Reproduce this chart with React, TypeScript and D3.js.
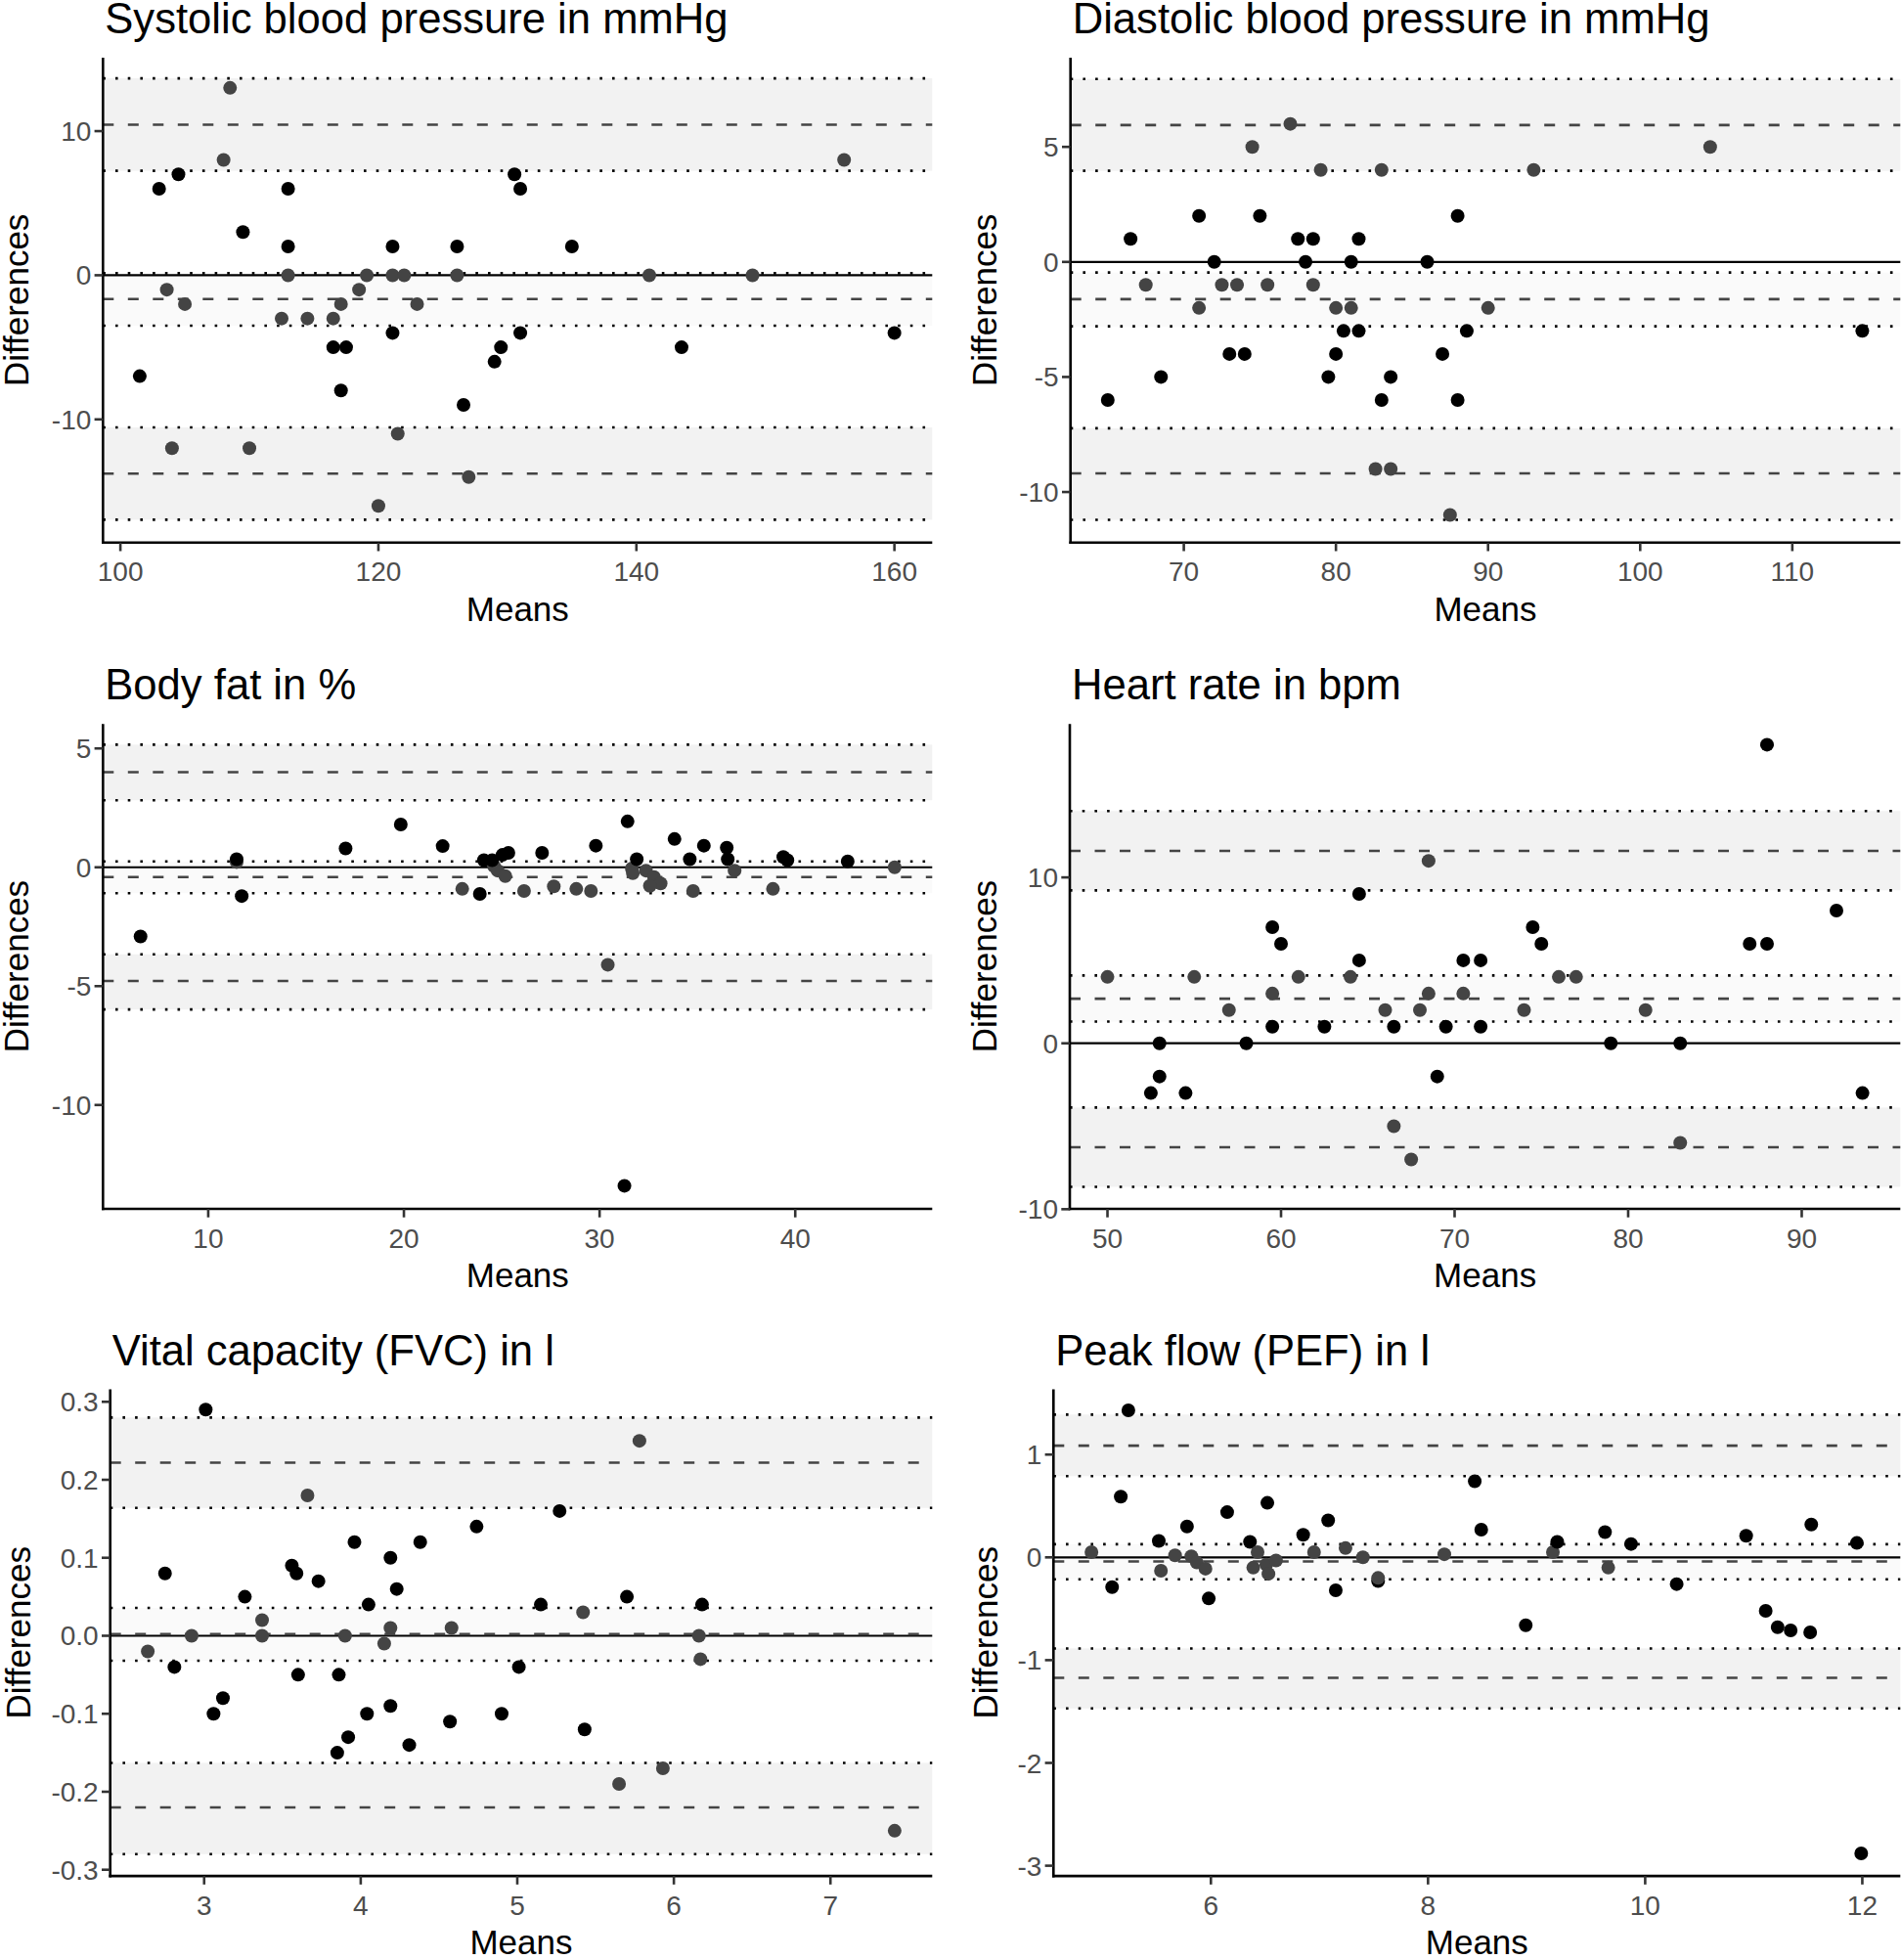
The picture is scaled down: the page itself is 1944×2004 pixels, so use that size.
import * as d3 from 'd3';

// [mean, difference, shade] where shade 1 = dark grey point, 0 = black point
const systolicPoints: [number, number, number][] = [
  [101.5, -7, 0], [103.0, 6, 0], [103.6, -1, 1], [104.0, -12, 1], [104.5, 7, 0],
  [105.0, -2, 1], [108.0, 8, 1], [108.5, 13, 1], [109.5, 3, 0], [110.0, -12, 1],
  [112.5, -3, 1], [113.0, 6, 0], [113.0, 2, 0], [113.0, 0, 1], [114.5, -3, 1],
  [116.5, -3, 1], [116.5, -5, 0], [117.1, -2, 1], [117.5, -5, 0], [117.1, -8, 0],
  [118.5, -1, 1], [119.1, 0, 1], [120.0, -16, 1], [121.1, 2, 0], [121.1, 0, 1],
  [121.1, -4, 0], [121.5, -11, 1], [122.0, 0, 1], [123.0, -2, 1], [126.1, 2, 0],
  [126.1, 0, 1], [126.6, -9, 0], [127.0, -14, 1], [129.0, -6, 0], [129.5, -5, 0],
  [130.55, 7, 0], [131.0, 6, 0], [131.0, -4, 0], [135.0, 2, 0], [141.0, 0, 1],
  [143.5, -5, 0], [149.0, 0, 1], [156.1, 8, 1], [160.0, -4, 0],
];

const diastolicPoints: [number, number, number][] = [
  [65.0, -6, 0], [66.5, 1, 0], [67.5, -1, 1], [68.5, -5, 0], [71.0, 2, 0],
  [71.0, -2, 1], [72.0, 0, 0], [72.5, -1, 1], [73.0, -4, 0], [73.5, -1, 1],
  [74.0, -4, 0], [74.5, 5, 1], [75.0, 2, 0], [75.5, -1, 1], [77.0, 6, 1],
  [77.5, 1, 0], [78.0, 0, 0], [78.5, 1, 0], [78.5, -1, 1], [79.0, 4, 1],
  [79.5, -5, 0], [80.0, -2, 1], [80.0, -4, 0], [80.5, -3, 0], [81.0, 0, 0],
  [81.0, -2, 1], [81.5, 1, 0], [81.5, -3, 0], [82.6, -9, 1], [83.0, 4, 1],
  [83.0, -6, 0], [83.6, -5, 0], [83.6, -9, 1], [86.0, 0, 0], [87.0, -4, 0],
  [88.0, 2, 0], [88.0, -6, 0], [87.5, -11, 1], [88.6, -3, 0], [90.0, -2, 1],
  [93.0, 4, 1], [104.6, 5, 1], [114.6, -3, 0],
];

const bodyFatPoints: [number, number, number][] = [
  [6.54, -2.91, 0], [11.45, 0.22, 1], [11.45, 0.34, 0], [11.71, -1.21, 0], [17.02, 0.79, 0],
  [19.84, 1.8, 0], [21.98, 0.89, 0], [22.98, -0.91, 1], [23.88, -1.12, 0], [24.09, 0.3, 0],
  [24.6, 0.05, 1], [24.79, -0.14, 1], [25.18, -0.37, 1], [24.51, 0.3, 0], [25.04, 0.52, 0],
  [25.34, 0.61, 0], [26.14, -1.0, 1], [27.06, 0.61, 0], [27.66, -0.8, 1], [28.81, -0.91, 1],
  [29.56, -1.0, 1], [29.81, 0.91, 0], [30.42, -4.1, 1], [31.43, 1.93, 0], [31.27, -13.4, 0],
  [31.65, -0.05, 1], [31.7, -0.25, 1], [31.9, 0.34, 0], [32.37, -0.14, 1], [32.78, -0.41, 1],
  [33.12, -0.68, 1], [32.57, -0.78, 1], [33.83, 1.19, 0], [34.61, 0.34, 0], [34.78, -1.0, 1],
  [35.33, 0.91, 0], [36.5, 0.82, 0], [36.55, 0.34, 0], [36.9, -0.14, 1], [38.86, -0.91, 1],
  [39.39, 0.43, 0], [39.6, 0.3, 0], [42.68, 0.25, 0], [45.08, 0.0, 1],
];

const heartRatePoints: [number, number, number][] = [
  [50, 4, 1], [52.5, -3, 0], [53, -2, 0], [53, 0, 0], [54.5, -3, 0],
  [55, 4, 1], [57, 2, 1], [58, 0, 0], [59.5, 7, 0], [59.5, 3, 1],
  [59.5, 1, 0], [60, 6, 0], [61, 4, 1], [62.5, 1, 0], [64, 4, 1],
  [64.5, 9, 0], [64.5, 5, 0], [66, 2, 1], [66.5, 1, 0], [66.5, -5, 1],
  [67.5, -7, 1], [68, 2, 1], [68.5, 11, 1], [68.5, 3, 1], [69, -2, 0],
  [69.5, 1, 0], [70.5, 5, 0], [70.5, 3, 1], [71.5, 5, 0], [71.5, 1, 0],
  [74, 2, 1], [74.5, 7, 0], [75, 6, 0], [76, 4, 1], [77, 4, 1],
  [79, 0, 0], [81, 2, 1], [83, 0, 0], [83, -6, 1], [87, 6, 0],
  [88, 18, 0], [88, 6, 0], [92, 8, 0], [93.5, -3, 0],
];

const fvcPoints: [number, number, number][] = [
  [2.64, -0.02, 1], [2.75, 0.08, 0], [2.81, -0.04, 0], [2.92, 0, 1], [3.01, 0.29, 0],
  [3.06, -0.1, 0], [3.12, -0.08, 0], [3.26, 0.05, 0], [3.37, 0.02, 1], [3.37, 0, 1],
  [3.56, 0.09, 0], [3.59, 0.08, 0], [3.6, -0.05, 0], [3.66, 0.18, 1], [3.73, 0.07, 0],
  [3.85, -0.15, 0], [3.86, -0.05, 0], [3.9, 0, 1], [3.92, -0.13, 0], [3.96, 0.12, 0],
  [4.04, -0.1, 0], [4.05, 0.04, 0], [4.15, -0.01, 1], [4.19, 0.1, 0], [4.19, -0.09, 0],
  [4.19, 0.01, 1], [4.23, 0.06, 0], [4.31, -0.14, 0], [4.38, 0.12, 0], [4.58, 0.01, 1],
  [4.57, -0.11, 0], [4.74, 0.14, 0], [4.9, -0.1, 0], [5.01, -0.04, 0], [5.15, 0.04, 0],
  [5.27, 0.16, 0], [5.42, 0.03, 1], [5.43, -0.12, 0], [5.65, -0.19, 1], [5.7, 0.05, 0],
  [5.78, 0.25, 1], [5.93, -0.17, 1], [6.16, 0, 1], [6.17, -0.03, 1], [6.18, 0.04, 0],
  [7.41, -0.25, 1],
];

const pefPoints: [number, number, number][] = [
  [4.9, 0.05, 1], [5.09, -0.29, 0], [5.17, 0.59, 0], [5.24, 1.43, 0], [5.52, 0.16, 0],
  [5.54, -0.13, 1], [5.67, 0.02, 1], [5.78, 0.3, 0], [5.82, 0.01, 1], [5.87, -0.05, 1],
  [5.95, -0.11, 1], [5.98, -0.4, 0], [6.15, 0.44, 0], [6.36, 0.15, 0], [6.39, -0.1, 1],
  [6.43, 0.05, 1], [6.52, 0.53, 0], [6.51, -0.07, 1], [6.53, -0.16, 1], [6.6, -0.03, 1],
  [6.85, 0.22, 0], [6.95, 0.05, 1], [7.08, 0.36, 0], [7.15, -0.32, 0], [7.24, 0.09, 1],
  [7.4, 0.0, 1], [7.54, -0.23, 0], [7.54, -0.2, 1], [8.15, 0.03, 1], [8.43, 0.74, 0],
  [8.49, 0.27, 0], [8.9, -0.66, 0], [9.15, 0.05, 1], [9.19, 0.15, 0], [9.63, 0.245, 0],
  [9.66, -0.1, 1], [9.87, 0.13, 0], [10.29, -0.26, 0], [10.93, 0.21, 0], [11.11, -0.52, 0],
  [11.22, -0.68, 0], [11.34, -0.71, 0], [11.52, -0.73, 0], [11.53, 0.32, 0], [11.95, 0.14, 0],
  [11.99, -2.88, 0],
];

// limits of agreement: upper (CI hi, estimate, CI lo), mean (hi, est, lo), lower (hi, est, lo)
const systolicLimits = [13.66, 10.45, 7.25, 0.14, -1.65, -3.5, -10.56, -13.76, -16.96];
const diastolicLimits = [7.95, 5.95, 3.96, -0.46, -1.62, -2.8, -7.23, -9.19, -11.21];
const bodyFatLimits = [5.16, 4.0, 2.82, 0.25, -0.41, -1.09, -3.66, -4.78, -5.98];
const heartRateLimits = [14.0, 11.6, 9.22, 4.09, 2.69, 1.31, -3.87, -6.27, -8.65];
const fvcLimits = [0.2798, 0.222, 0.164, 0.0357, 0.002, -0.032, -0.163, -0.22, -0.28];
const pefLimits = [1.389, 1.087, 0.79, 0.128, -0.04, -0.214, -0.886, -1.172, -1.47];

const titles = [
  'Systolic blood pressure in mmHg',
  'Diastolic blood pressure in mmHg',
  'Body fat in %',
  'Heart rate in bpm',
  'Vital capacity (FVC) in l',
  'Peak flow (PEF) in l',
];

const xTickSets = [
  [100, 120, 140, 160],
  [70, 80, 90, 100, 110],
  [10, 20, 30, 40],
  [50, 60, 70, 80, 90],
  [3, 4, 5, 6, 7],
  [6, 8, 10, 12],
];
const yTickSets = [
  [-10, 0, 10],
  [-10, -5, 0, 5],
  [-10, -5, 0, 5],
  [-10, 0, 10],
  [-0.3, -0.2, -0.1, 0, 0.1, 0.2, 0.3],
  [-3, -2, -1, 0, 1],
];
const yTickDecimals = [0, 0, 0, 0, 1, 0];
const xDomains: [number, number][] = [
  [98.65, 162.93], [62.55, 117.1], [4.62, 47.0], [47.83, 95.68], [2.4, 7.65], [4.55, 12.35],
];
const yDomains: [number, number][] = [
  [-18.55, 15.1], [-12.2, 8.88], [-14.37, 6.03], [-9.98, 19.25], [-0.308, 0.316], [-3.1, 1.635],
];

const panelData = [systolicPoints, diastolicPoints, bodyFatPoints, heartRatePoints, fvcPoints, pefPoints];
const panelLimits = [systolicLimits, diastolicLimits, bodyFatLimits, heartRateLimits, fvcLimits, pefLimits];

// panel frames in page pixels
const frames = [
  { left: 105.3, right: 953.3, top: 58.9, bottom: 554.8, labelX: 29 },
  { left: 1094.7, right: 1943.3, top: 58.9, bottom: 554.8, labelX: 1018.8 },
  { left: 105.3, right: 953.3, top: 740.2, bottom: 1236, labelX: 29 },
  { left: 1094, right: 1943.3, top: 740.2, bottom: 1236, labelX: 1018.8 },
  { left: 112.7, right: 953.3, top: 1420.5, bottom: 1918.1, labelX: 30.5 },
  { left: 1077.3, right: 1943.3, top: 1420.5, bottom: 1918.1, labelX: 1019.5 },
];

const FONT = '"Liberation Sans", Arial, Helvetica, sans-serif';

function Panel({ idx }: { idx: number }) {
  const f = frames[idx];
  const x = d3.scaleLinear().domain(xDomains[idx]).range([f.left, f.right]);
  const y = d3.scaleLinear().domain(yDomains[idx]).range([f.bottom, f.top]);
  const lim = panelLimits[idx];
  const pts = panelData[idx];
  const x0 = f.left;
  const x1 = f.right;
  const band = (hi: number, lo: number, fill: string) => (
    <rect x={x0} width={x1 - x0} y={y(hi)} height={y(lo) - y(hi)} fill={fill} />
  );
  const hline = (v: number, kind: 'dot' | 'dash' | 'solid') => {
    const common = { x1: x0, x2: x1, y1: y(v), y2: y(v) };
    if (kind === 'dot')
      return <line {...common} stroke="#000" strokeWidth={2.6} strokeDasharray="2.6,10.1" />;
    if (kind === 'dash')
      return <line {...common} stroke="#444" strokeWidth={2.6} strokeDasharray="11,14.5" />;
    return <line {...common} stroke="#000" strokeWidth={2.2} />;
  };
  const midY = (f.top + f.bottom) / 2;
  return (
    <g>
      {band(lim[0], lim[2], '#f2f2f2')}
      {band(lim[3], lim[5], '#fafafa')}
      {band(lim[6], lim[8], '#f2f2f2')}
      {hline(0, 'solid')}
      {[0, 2, 3, 5, 6, 8].map((i) => (
        <g key={'d' + i}>{hline(lim[i], 'dot')}</g>
      ))}
      {[1, 4, 7].map((i) => (
        <g key={'m' + i}>{hline(lim[i], 'dash')}</g>
      ))}
      {pts.map((p, i) => (
        <circle key={i} cx={x(p[0])} cy={y(p[1])} r={7} fill={p[2] ? '#444' : '#000'} />
      ))}
      {/* axes */}
      <line x1={x0} x2={x0} y1={f.top} y2={f.bottom + 1.3} stroke="#000" strokeWidth={2.6} />
      <line x1={x0 - 1.3} x2={x1} y1={f.bottom} y2={f.bottom} stroke="#000" strokeWidth={2.6} />
      {xTickSets[idx].map((t) => (
        <g key={'xt' + t}>
          <line x1={x(t)} x2={x(t)} y1={f.bottom} y2={f.bottom + 8.7} stroke="#333" strokeWidth={2.6} />
          <text x={x(t)} y={f.bottom + 39.5} textAnchor="middle" fontSize={28} fill="#4d4d4d" fontFamily={FONT}>
            {String(t)}
          </text>
        </g>
      ))}
      {yTickSets[idx].map((t) => (
        <g key={'yt' + t}>
          <line x1={x0 - 8.7} x2={x0} y1={y(t)} y2={y(t)} stroke="#333" strokeWidth={2.6} />
          <text x={x0 - 12} y={y(t) + 10} textAnchor="end" fontSize={28} fill="#4d4d4d" fontFamily={FONT}>
            {t.toFixed(yTickDecimals[idx])}
          </text>
        </g>
      ))}
      <text x={(x0 + x1) / 2} y={f.bottom + 80} textAnchor="middle" fontSize={35} fill="#000" fontFamily={FONT}>
        Means
      </text>
      <text
        transform={`translate(${f.labelX},${midY}) rotate(-90)`}
        textAnchor="middle"
        fontSize={35}
        fill="#000"
        fontFamily={FONT}
      >
        Differences
      </text>
      <text x={x0 + 2} y={f.top - 25} fontSize={43.6} fill="#000" fontFamily={FONT}>
        {titles[idx]}
      </text>
    </g>
  );
}

export default function App() {
  return (
    <svg
      width={1944}
      height={2004}
      style={{ position: 'absolute', left: 0, top: 0, background: '#fff' }}
    >
      <rect width={1944} height={2004} fill="#fff" />
      {frames.map((_, i) => (
        <Panel key={i} idx={i} />
      ))}
    </svg>
  );
}
